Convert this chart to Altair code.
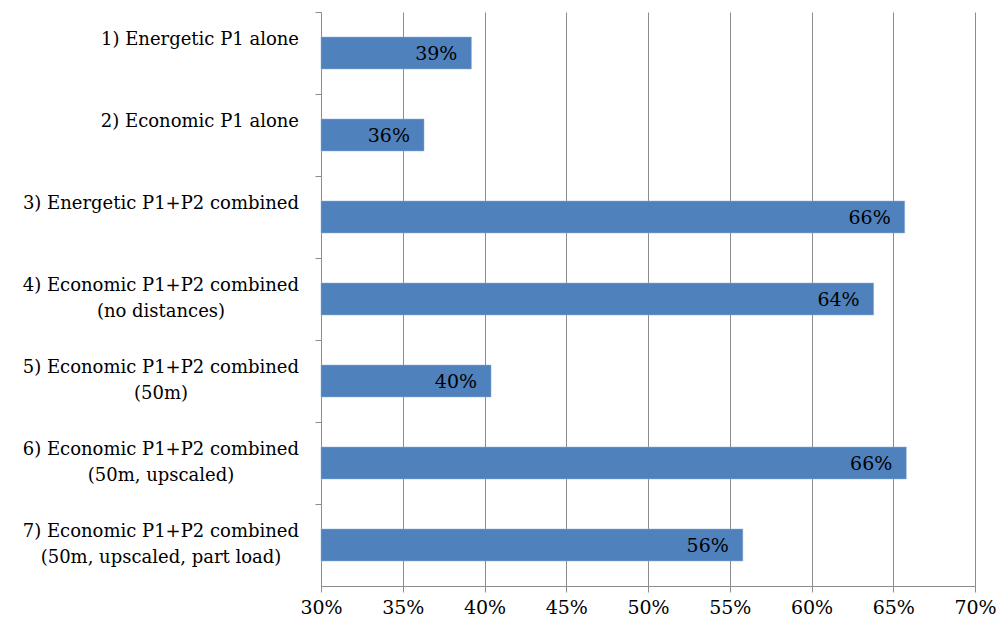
import altair as alt
import pandas as pd

categories = ["c1", "c2", "c3", "c4", "c5", "c6", "c7"]
line1 = [
    "1) Energetic P1 alone",
    "2) Economic P1 alone",
    "3) Energetic P1+P2 combined",
    "4) Economic P1+P2 combined",
    "5) Economic P1+P2 combined",
    "6) Economic P1+P2 combined",
    "7) Economic P1+P2 combined",
]
line2 = ["", "", "", "(no distances)", "(50m)", "(50m, upscaled)", "(50m, upscaled, part load)"]
values = [0.392, 0.363, 0.657, 0.638, 0.404, 0.658, 0.558]
x_ticks = [0.30, 0.35, 0.40, 0.45, 0.50, 0.55, 0.60, 0.65, 0.70]

df = pd.DataFrame({"cat": categories, "line1": line1, "line2": line2, "value": values})

FONT = "DejaVu Serif"
FS = 18
GRID = "#8c8c8c"

y_enc = alt.Y("cat:N", sort=categories,
              scale=alt.Scale(paddingInner=0, paddingOuter=0),
              axis=alt.Axis(title=None, labels=False, bandPosition=0, ticks=True,
                            tickSize=6, tickColor=GRID, domainColor=GRID, grid=False))
x_scale = alt.Scale(domain=[0.30, 0.70], nice=False, clamp=False)
x_enc = alt.X("value:Q", scale=x_scale,
              axis=alt.Axis(title=None, values=x_ticks, format=".0%", grid=True,
                            gridColor=GRID, gridWidth=1, domainColor=GRID,
                            tickColor=GRID, tickSize=6, labelFont=FONT,
                            labelFontSize=19, labelColor="black", labelPadding=6,
                            labelFlush=False, labelOverlap=False))

base = alt.Chart(df)

bars = base.mark_bar(color="#4F81BD", size=32, stroke="#8fb0d8", strokeWidth=0.5).encode(
    y=y_enc,
    x=x_enc,
    x2=alt.datum(0.30),
)

vals = base.mark_text(align="right", baseline="middle", dx=-14, dy=1, font=FONT,
                      fontSize=19, color="black").encode(
    y=alt.Y("cat:N", sort=categories),
    x=alt.X("value:Q", scale=x_scale),
    text=alt.Text("value:Q", format=".0%"),
)

lab1 = base.mark_text(align="right", baseline="middle", dy=-13, font=FONT,
                      fontSize=FS, color="black").encode(
    y=alt.Y("cat:N", sort=categories),
    x=alt.value(-22),
    text="line1:N",
)

lab2 = base.mark_text(align="center", baseline="middle", dy=13, font=FONT,
                      fontSize=FS, color="black").encode(
    y=alt.Y("cat:N", sort=categories),
    x=alt.value(-160),
    text="line2:N",
)

chart = alt.layer(bars, vals, lab1, lab2).properties(
    width=654, height=574,
    padding={"left": 321, "top": 12, "right": 25, "bottom": 39},
    autosize="none",
    background="white",
).configure_view(stroke=None)

chart.save("out.html", embed_options={"renderer": "svg", "actions": False})
